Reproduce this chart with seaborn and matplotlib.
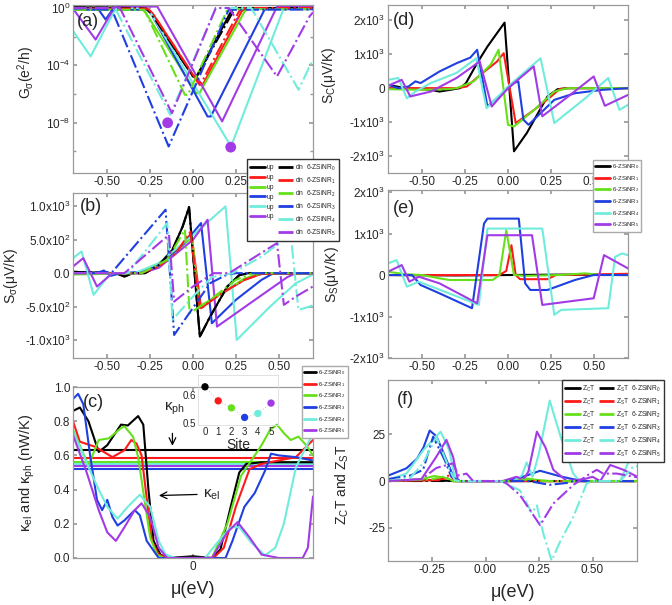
import matplotlib
matplotlib.use("Agg")
import matplotlib.pyplot as plt
import seaborn as sns
from matplotlib.lines import Line2D

sns.set_theme(style="ticks")
plt.rcParams["font.family"] = ["Liberation Sans", "DejaVu Sans"]
plt.rcParams["mathtext.fontset"] = "custom"
plt.rcParams["mathtext.rm"] = "Liberation Sans"
plt.rcParams["mathtext.it"] = "Liberation Sans:italic"
plt.rcParams["mathtext.bf"] = "Liberation Sans:bold"
plt.rcParams["mathtext.default"] = "rm"

# ---------------- common ----------------
sites = [0, 1, 2, 3, 4, 5]
ribbon_names = ["6-ZSiNR$_0$", "6-ZSiNR$_1$", "6-ZSiNR$_2$",
                "6-ZSiNR$_3$", "6-ZSiNR$_4$", "6-ZSiNR$_5$"]
colors = ["#000000", "#ff1a1a", "#66e01a", "#1f3fe0", "#70ecdc", "#a23be6"]

# ---------------- (a) G_sigma, log10 values ----------------
a_up_x = [
    [-0.70, -0.30, -0.27, -0.246, 0.00, 0.02, 0.227, 0.26, 0.70],
    [-0.70, -0.28, -0.26, -0.237, 0.038, 0.057, 0.284, 0.31, 0.70],
    [-0.70, -0.31, -0.29, -0.275, 0.019, 0.038, 0.303, 0.33, 0.70],
    [-0.70, -0.55, -0.51, -0.47, -0.27, -0.246, 0.085, 0.104, 0.417, 0.45, 0.70],
    [-0.70, -0.597, -0.455, -0.44, -0.265, 0.222, 0.53, 0.70],
    [-0.70, -0.568, -0.455, -0.208, 0.17, 0.49, 0.70],
]
a_up_logG = [
    [0.05, 0.02, -0.08, -0.35, -4.77, -4.8, -0.12, 0.0, 0.0],
    [-0.05, -0.03, -0.1, -0.35, -5.35, -5.35, -0.23, -0.02, 0.0],
    [-0.12, -0.12, -0.15, -0.35, -5.93, -5.93, -0.2, -0.05, -0.05],
    [-0.1, -0.12, -0.8, -0.12, -0.1, -0.35, -7.56, -7.56, -0.12, -0.08, -0.08],
    [-1.6, -3.37, -0.12, 0.0, 0.0, -9.65, 0.0, 0.0],
    [-0.05, -2.2, 0.1, 0.1, -7.9, 0.1, 0.1],
]
a_dn_x = [
    [-0.70, -0.30, -0.27, -0.246, 0.00, 0.02, 0.24, 0.27, 0.70],
    [-0.70, -0.28, -0.26, -0.237, 0.03, 0.05, 0.27, 0.30, 0.70],
    [-0.70, -0.30, -0.284, -0.047, -0.03, 0.20, 0.23, 0.70],
    [-0.70, -0.60, -0.55, -0.473, -0.142, 0.208, 0.70],
    [-0.70, -0.455, -0.133, 0.133, 0.34, 0.616, 0.68, 0.70],
    [-0.70, -0.426, -0.123, 0.133, 0.208, 0.49, 0.68, 0.70],
]
a_dn_logG = [
    [0.05, 0.0, -0.05, -0.35, -4.77, -4.8, -0.12, 0.0, 0.0],
    [-0.05, -0.03, -0.1, -0.35, -5.2, -5.2, -0.2, 0.0, 0.0],
    [-0.12, -0.12, -0.12, -6.05, -6.05, -0.12, -0.08, -0.08],
    [-0.05, 0.0, -0.1, -0.12, -9.65, -0.12, -0.1],
    [0.0, 0.0, -7.44, 0.0, 0.0, -5.7, -4.07, -3.6],
    [0.0, 0.0, -7.33, 0.0, 0.0, -4.77, -0.58, -0.3],
]
a_mark_x = [-0.148, 0.22]
a_mark_logG = [-8.0, -9.7]

# ---------------- (b) S_sigma ----------------
b_up_x = [
    [-0.70, -0.45, -0.40, -0.35, -0.28, -0.20, -0.12, -0.06, -0.023, 0.04, 0.10, 0.20, 0.27, 0.32, 0.70],
    [-0.70, -0.30, -0.20, -0.10, -0.01, 0.047, 0.15, 0.30, 0.40, 0.70],
    [-0.70, -0.30, -0.20, -0.10, -0.005, 0.035, 0.15, 0.30, 0.40, 0.70],
    [-0.70, -0.56, -0.52, -0.48, -0.42, -0.30, -0.20, -0.05, 0.047, 0.11, 0.25, 0.40, 0.47, 0.70],
    [-0.70, -0.65, -0.58, -0.50, -0.47, -0.34, -0.20, 0.00, 0.19, 0.255, 0.45, 0.60, 0.70],
    [-0.70, -0.64, -0.56, -0.47, -0.30, -0.20, 0.00, 0.085, 0.14, 0.35, 0.55, 0.60, 0.70],
]
b_up_y = [
    [20, 0, -50, 0, 0, 120, 350, 700, 990, -950, -650, -200, -30, 0, 0],
    [0, 0, 100, 300, 600, -525, -330, -100, -10, 0],
    [-20, 0, 100, 330, 540, -500, -330, -80, 0, 0],
    [0, 0, 40, -40, 0, 20, 120, 450, 750, -750, -400, -100, 0, 0],
    [225, 325, -325, -60, 0, 0, 150, 570, 1000, -1000, -500, -150, -20],
    [100, 225, -200, 0, 0, 80, 500, 800, -800, -420, -60, 0, 0],
]
b_dn_x = [
    [-0.70, -0.45, -0.40, -0.35, -0.28, -0.20, -0.12, -0.06, -0.023, 0.04, 0.10, 0.20, 0.27, 0.32, 0.70],
    [-0.70, -0.30, -0.20, -0.10, -0.015, 0.04, 0.15, 0.30, 0.40, 0.70],
    [-0.70, -0.30, -0.15, -0.047, -0.02, 0.10, 0.25, 0.35, 0.70],
    [-0.70, -0.47, -0.16, -0.11, 0.10, 0.20, 0.25, 0.70],
    [-0.70, -0.38, -0.15, -0.12, 0.00, 0.11, 0.23, 0.40, 0.57, 0.615, 0.68, 0.70],
    [-0.70, -0.40, -0.14, -0.11, 0.00, 0.12, 0.21, 0.49, 0.53, 0.60, 0.70],
]
b_dn_y = [
    [20, 0, -50, 0, 0, 120, 350, 700, 990, -950, -650, -200, -30, 0, 0],
    [0, 0, 100, 300, 620, -540, -330, -100, -10, 0],
    [0, 0, 200, 650, -600, -400, -100, 0, 0],
    [0, 20, 950, -925, -150, -20, 0, 0],
    [0, 0, 750, -700, -350, -60, 0, 250, 575, -550, -500, -480],
    [0, 0, 575, -425, -200, 0, 0, 450, -475, -350, -200],
]

# ---------------- (c) kappa_el and kappa_ph ----------------
c_x = [
    [-0.70, -0.66, -0.61, -0.55, -0.50, -0.42, -0.38, -0.32, -0.29, -0.26, -0.23, -0.19, -0.15, 0.00, 0.11, 0.16, 0.22, 0.27, 0.31, 0.40, 0.70],
    [-0.70, -0.66, -0.60, -0.57, -0.47, -0.40, -0.36, -0.33, -0.30, -0.27, -0.24, -0.20, -0.15, 0.12, 0.18, 0.25, 0.33, 0.40, 0.50, 0.60, 0.65, 0.70],
    [-0.70, -0.61, -0.55, -0.49, -0.42, -0.40, -0.35, -0.32, -0.28, -0.25, -0.21, -0.17, 0.11, 0.20, 0.28, 0.34, 0.40, 0.45, 0.49, 0.53, 0.57, 0.615, 0.66, 0.70],
    [-0.70, -0.67, -0.64, -0.60, -0.56, -0.53, -0.50, -0.47, -0.44, -0.40, -0.34, -0.31, -0.27, -0.20, 0.19, 0.23, 0.30, 0.36, 0.42, 0.455, 0.50, 0.60, 0.70],
    [-0.70, -0.60, -0.55, -0.50, -0.44, -0.38, -0.31, -0.25, -0.20, -0.16, -0.10, 0.07, 0.15, 0.22, 0.27, 0.34, 0.42, 0.48, 0.53, 0.60, 0.70],
    [-0.70, -0.62, -0.55, -0.50, -0.45, -0.40, -0.34, -0.30, -0.25, -0.20, -0.15, 0.11, 0.20, 0.26, 0.33, 0.40, 0.50, 0.64, 0.67, 0.70],
]
c_y = [
    [0.86, 0.88, 0.80, 0.62, 0.66, 0.78, 0.775, 0.83, 0.78, 0.40, 0.10, 0.02, 0.0, 0.01, 0.0, 0.05, 0.30, 0.50, 0.55, 0.56, 0.56],
    [0.80, 0.68, 0.66, 0.65, 0.59, 0.63, 0.69, 0.67, 0.60, 0.35, 0.10, 0.02, 0.0, 0.0, 0.06, 0.30, 0.52, 0.55, 0.57, 0.59, 0.64, 0.69],
    [0.75, 0.54, 0.69, 0.70, 0.76, 0.77, 0.71, 0.59, 0.32, 0.12, 0.02, 0.0, 0.0, 0.20, 0.48, 0.57, 0.66, 0.75, 0.78, 0.73, 0.69, 0.71, 0.66, 0.60],
    [0.93, 0.96, 0.90, 0.60, 0.34, 0.28, 0.34, 0.24, 0.19, 0.22, 0.28, 0.25, 0.10, 0.0, 0.0, 0.10, 0.30, 0.38, 0.51, 0.61, 0.60, 0.59, 0.57],
    [0.74, 0.51, 0.40, 0.30, 0.23, 0.30, 0.37, 0.30, 0.10, 0.02, 0.0, 0.0, 0.10, 0.18, 0.18, 0.09, 0.015, 0.06, 0.20, 0.53, 0.73],
    [0.72, 0.50, 0.28, 0.15, 0.10, 0.18, 0.28, 0.32, 0.24, 0.06, 0.0, 0.0, 0.15, 0.21, 0.12, 0.02, 0.0, 0.0, 0.06, 0.36],
]
kph_lines = [0.63, 0.585, 0.562, 0.522, 0.548, 0.537]
kph_inset = [0.629, 0.579, 0.554, 0.520, 0.534, 0.571]

# ---------------- (d) S_C ----------------
d_x = [
    [-0.70, -0.60, -0.45, -0.40, -0.35, -0.28, -0.245, -0.18, -0.12, -0.065, -0.02, 0.035, 0.11, 0.23, 0.29, 0.35, 0.70],
    [-0.70, -0.30, -0.24, -0.16, -0.065, -0.025, 0.045, 0.15, 0.25, 0.30, 0.35, 0.70],
    [-0.70, -0.50, -0.35, -0.30, -0.20, -0.10, -0.055, 0.00, 0.035, 0.15, 0.27, 0.35, 0.70],
    [-0.70, -0.64, -0.58, -0.54, -0.51, -0.40, -0.30, -0.22, -0.18, -0.12, 0.035, 0.06, 0.09, 0.12, 0.27, 0.39, 0.55, 0.70],
    [-0.70, -0.64, -0.59, -0.54, -0.45, -0.30, -0.185, -0.125, 0.00, 0.19, 0.27, 0.45, 0.585, 0.65, 0.70],
    [-0.70, -0.62, -0.57, -0.45, -0.30, -0.165, -0.095, 0.00, 0.15, 0.20, 0.35, 0.50, 0.565, 0.70],
]
d_y = [
    [100, 0, -50, -100, -60, 0, 150, 740, 1225, 1615, 1930, -1860, -1320, -245, -30, 0, 0],
    [0, 0, 50, 400, 780, 1030, -1030, -650, -250, -30, 0, 0],
    [-30, -50, -30, 0, 200, 700, 1130, -1080, -1130, -650, -100, 0, 0],
    [100, 0, 50, 200, 150, 490, 735, 900, 1130, -540, 150, 200, -930, -1080, -345, -150, -50, 0],
    [245, 300, -300, -100, 150, 450, 880, -590, 50, 880, -1030, -300, 300, -640, -490],
    [70, 245, -245, -100, 300, 785, -540, 0, 640, -830, -250, 345, -520, -200],
]

# ---------------- (e) S_S ----------------
e_x = [
    [-0.70, -0.30, 0.00, 0.30, 0.70],
    [-0.70, -0.20, -0.05, -0.01, 0.02, 0.045, 0.07, 0.23, 0.28, 0.70],
    [-0.70, -0.60, -0.50, -0.40, -0.34, -0.09, -0.05, -0.01, 0.035, 0.10, 0.30, 0.45, 0.55, 0.70],
    [-0.70, -0.56, -0.51, -0.40, -0.21, -0.14, -0.12, 0.063, 0.10, 0.13, 0.23, 0.39, 0.50, 0.70],
    [-0.70, -0.65, -0.59, -0.52, -0.17, -0.12, 0.20, 0.27, 0.31, 0.585, 0.625, 0.665, 0.70],
    [-0.70, -0.62, -0.575, -0.52, -0.40, -0.18, -0.12, 0.14, 0.20, 0.50, 0.56, 0.70],
]
e_y = [
    [0, -10, 0, 10, 0],
    [0, 0, 0, 100, 720, 0, -100, -100, 0, 30],
    [80, 20, 0, -80, -120, -120, 0, 1080, 0, -20, 0, 40, 0, 0],
    [0, 0, -240, -440, -800, 1240, 1360, 1360, -200, -360, -360, -120, 0, 0],
    [280, 360, -280, -160, -720, 1120, 1120, -960, -840, -800, 440, 520, 480],
    [80, 240, -160, -40, -200, -680, 960, 960, -720, -560, 480, 160],
]

# ---------------- (f) Z_C T and Z_S T ----------------
f_c_x = [
    [-0.46, -0.25, -0.15, 0.70],
    [-0.46, -0.25, -0.18, -0.15, 0.15, 0.20, 0.26, 0.70],
    [-0.46, -0.30, -0.24, -0.18, -0.15, 0.12, 0.19, 0.25, 0.30, 0.70],
    [-0.46, -0.37, -0.32, -0.29, -0.261, -0.23, -0.20, -0.15, -0.12, 0.10, 0.18, 0.255, 0.35, 0.41, 0.47, 0.70],
    [-0.46, -0.37, -0.29, -0.21, -0.17, -0.144, -0.12, 0.13, 0.17, 0.192, 0.22, 0.25, 0.30, 0.35, 0.41, 0.44, 0.63, 0.66, 0.68, 0.71],
    [-0.46, -0.30, -0.23, -0.183, -0.152, -0.13, -0.12, 0.08, 0.145, 0.175, 0.20, 0.24, 0.28, 0.317, 0.38, 0.46, 0.50, 0.536, 0.583, 0.645, 0.71],
]
f_c_y = [
    [0, 0.5, 0, 0],
    [0, 0.5, 1.4, 0, 0, 0.8, 0, 0],
    [0, 1.0, 2.7, 1.5, 0, 0, 1.4, 0.5, 0, 0],
    [2.7, 6.8, 12, 18, 27, 24, 16, 2.3, 0, 0, 2.5, 5.5, 2.5, 1.0, 0, 0],
    [0.5, 4, 16.6, 26.4, 16.6, 2.3, 0, 0, 3, 10, 2.3, 15, 43, 24, 4, 0, 0, 8, 13, 12],
    [0, 1, 13, 22, 13, 1, 0, 0, 2.3, 0.5, 5, 26.4, 18, 6, 0, 1, 2.3, 0, 8.6, 6, 2.3],
]
f_s_x = [
    [-0.46, 0.71],
    [-0.46, -0.22, -0.167, -0.14, 0.71],
    [-0.46, -0.25, -0.20, -0.15, 0.15, 0.20, 0.25, 0.71],
    [-0.46, -0.35, -0.292, -0.245, -0.19, -0.16, -0.12, 0.20, 0.30, 0.38, 0.41, 0.71],
    [-0.46, -0.35, -0.292, -0.23, -0.167, -0.144, -0.12, 0.07, 0.161, 0.216, 0.24, 0.27, 0.309, 0.35, 0.411, 0.473, 0.505, 0.63, 0.69, 0.71],
    [-0.46, -0.30, -0.23, -0.152, -0.128, -0.089, -0.058, 0.067, 0.098, 0.161, 0.255, 0.317, 0.411, 0.489, 0.52, 0.55, 0.614, 0.71],
]
f_s_y = [
    [0, 0],
    [0, 0.5, 3.2, 0, 0],
    [0, 1, 2.3, 0, 0, 1, 0, 0],
    [1, 3, 6, 23.7, 11, 2.3, 0, 0, -2, -1, 0, 0],
    [0, 2, 9.5, 23.7, 6, 0.5, 0, 0, -5, -17, -13, -28, -42.5, -32, -19, -1.2, 0, 0, 7.7, 8],
    [0, 1, 7, 9.5, 3, 4, 0, 0, -1.2, -7.5, -23.6, -12, -2, 4, 6, 4, 4, 2],
]

# ---------------- tick labels ----------------
x_ticks = [-0.5, -0.25, 0.0, 0.25, 0.5]
x_ticklabels = ["-0.50", "-0.25", "0.00", "0.25", "0.50"]
a_xticklabels = ["-0.50", "-0.25", "0.00", "0.25", ""]  # 0.50 hidden by legend
f_xticks = [-0.25, 0.0, 0.25, 0.5]
f_xticklabels = ["-0.25", "0.00", "0.25", "0.50"]
a_yticks = [1e0, 1e-4, 1e-8]
a_yticklabels = ["10$^0$", "10$^{-4}$", "10$^{-8}$"]
b_yticks = [-1000, -500, 0, 500, 1000]
b_yticklabels = ["-1.0x10$^3$", "-5.0x10$^2$", "0.0", "5.0x10$^2$", "1.0x10$^3$"]
c_yticks = [0.0, 0.2, 0.4, 0.6, 0.8, 1.0]
c_yticklabels = ["0.0", "0.2", "0.4", "0.6", "0.8", "1.0"]
de_yticks = [-2000, -1000, 0, 1000, 2000]
de_yticklabels = ["-2x10$^3$", "-1x10$^3$", "0", "1x10$^3$", "2x10$^3$"]
f_yticks = [-25, 0, 25]
f_yticklabels = ["-25", "0", "25"]

# ---------------- figure ----------------
W, H = 672, 605
fig = plt.figure(figsize=(W / 100, H / 100), dpi=100)


def px_axes(l, t, r, b):
    return fig.add_axes([l / W, 1 - b / H, (r - l) / W, (b - t) / H])


axa = px_axes(73, 5, 313, 173)
axb = px_axes(73, 193, 313, 358)
axc = px_axes(73, 387, 313, 558)
axd = px_axes(388, 5, 628, 173)
axe = px_axes(388, 190, 628, 358)
axf = px_axes(388, 380, 637, 561)

LW = 1.5


def draw(ax, xs, ys, color, ls="-", lw=LW):
    sns.lineplot(x=xs, y=ys, ax=ax, color=color, linestyle=ls, lw=lw,
                 estimator=None, sort=False, legend=False)


# (a)
axa.set_yscale("log")
for i in range(6):
    draw(axa, a_up_x[i], [10 ** v for v in a_up_logG[i]], colors[i], "-")
for i in range(6):
    draw(axa, a_dn_x[i], [10 ** v for v in a_dn_logG[i]], colors[i], "-.")
sns.scatterplot(x=a_mark_x, y=[10 ** v for v in a_mark_logG], ax=axa,
                color=colors[5], s=60, edgecolor="none", zorder=5, legend=False)
axa.set_ylim(10 ** -11.5, 10 ** 0.21)

# (b)
for i in range(6):
    draw(axb, b_up_x[i], b_up_y[i], colors[i], "-")
for i in range(6):
    draw(axb, b_dn_x[i], b_dn_y[i], colors[i], "-.")
axb.set_ylim(-1270, 1200)

# (c)
for i in range(6):
    axc.axhline(kph_lines[i], color=colors[i], lw=LW)
for i in range(6):
    draw(axc, c_x[i], c_y[i], colors[i], "-")
axc.set_ylim(0, 1.0)

# (d)
for i in range(6):
    draw(axd, d_x[i], d_y[i], colors[i], "-")
axd.set_ylim(-2500, 2450)

# (e)
for i in range(6):
    draw(axe, e_x[i], e_y[i], colors[i], "-")
axe.set_ylim(-2000, 2050)

# (f)
for i in range(6):
    draw(axf, f_c_x[i], f_c_y[i], colors[i], "-")
for i in range(6):
    draw(axf, f_s_x[i], f_s_y[i], colors[i], "-.")
axf.set_ylim(-42.7, 54)

# axes styling
for ax in [axa, axb, axc, axd, axe]:
    ax.set_xlim(-0.7, 0.7)
axf.set_xlim(-0.456, 0.708)

axa.set_xticks(x_ticks)
axa.set_xticklabels(a_xticklabels)
for ax in [axb, axd, axe]:
    ax.set_xticks(x_ticks)
    ax.set_xticklabels(x_ticklabels)
axc.set_xticks([0.0])
axc.set_xticklabels(["0"])
axf.set_xticks(f_xticks)
axf.set_xticklabels(f_xticklabels)

axa.set_yticks(a_yticks)
axa.set_yticklabels(a_yticklabels)
axa.yaxis.set_minor_locator(matplotlib.ticker.FixedLocator([1e-2, 1e-6, 1e-10]))
axa.yaxis.set_minor_formatter(matplotlib.ticker.NullFormatter())
axb.set_yticks(b_yticks)
axb.set_yticklabels(b_yticklabels)
axc.set_yticks(c_yticks)
axc.set_yticklabels(c_yticklabels)
for ax in [axd, axe]:
    ax.set_yticks(de_yticks)
    ax.set_yticklabels(de_yticklabels)
axf.set_yticks(f_yticks)
axf.set_yticklabels(f_yticklabels)

for ax in [axa, axb, axc, axd, axe, axf]:
    ax.set_xlabel("")
    ax.set_ylabel("")
    for s in ax.spines.values():
        s.set_color("#9a9a9a")
        s.set_linewidth(0.9)
    ax.tick_params(which="both", direction="in", top=True, right=True,
                   color="#9a9a9a", labelsize=8.5, pad=2, length=3)
    ax.tick_params(which="minor", length=2)

# panel letters
for ax, lab, xy in [(axa, "(a)", (0.017, 0.95)), (axb, "(b)", (0.03, 0.97)),
                    (axc, "(c)", (0.04, 0.96)), (axd, "(d)", (0.02, 0.96)),
                    (axe, "(e)", (0.02, 0.94)), (axf, "(f)", (0.035, 0.94))]:
    ax.text(xy[0], xy[1], lab, transform=ax.transAxes, fontsize=13,
            va="top", ha="left", zorder=6)

# y labels
ylab_fs = 10
axa.set_ylabel("G$_\\sigma$(e$^2$/h)", fontsize=ylab_fs)
axa.yaxis.set_label_coords(-0.15, 0.6)
axb.set_ylabel("S$_\\sigma$(\u03bcV/K)", fontsize=ylab_fs)
axb.yaxis.set_label_coords(-0.22, 0.5)
axc.set_ylabel("\u03ba$_{el}$ and \u03ba$_{ph}$ (nW/K)", fontsize=10.5)
axc.yaxis.set_label_coords(-0.148, 0.5)
axd.set_ylabel("S$_C$(\u03bcV/K)", fontsize=ylab_fs)
axd.yaxis.set_label_coords(-0.208, 0.58)
axe.set_ylabel("S$_S$(\u03bcV/K)", fontsize=ylab_fs)
axe.yaxis.set_label_coords(-0.196, 0.5)
axf.set_ylabel("Z$_C$T and Z$_S$T", fontsize=ylab_fs)
axf.yaxis.set_label_coords(-0.15, 0.42)
axc.set_xlabel("\u03bc(eV)", fontsize=13, labelpad=6)
axf.set_xlabel("\u03bc(eV)", fontsize=13, labelpad=6)

# (c) annotations
axc.annotate("", xy=(-0.12, 0.64), xytext=(-0.12, 0.745),
             arrowprops=dict(arrowstyle="->", color="black", lw=0.9))
axc.text(-0.17, 0.87, "\u03ba$_{ph}$", fontsize=11, va="center", ha="left")
axc.annotate("", xy=(-0.215, 0.365), xytext=(0.04, 0.372),
             arrowprops=dict(arrowstyle="->", color="black", lw=0.9))
axc.text(0.057, 0.37, "\u03ba$_{el}$", fontsize=11, va="center", ha="left")

# (c) inset
axin = px_axes(198, 375, 278, 425)
axin.set_facecolor("none")
axin.plot(sites, kph_inset, ":", color="#d0d0d0", lw=0.8)
sns.scatterplot(x=sites, y=kph_inset, hue=sites, palette=colors, ax=axin,
                s=28, edgecolor="none", legend=False, zorder=3)
axin.set_xlim(-0.53, 5.53)
axin.set_ylim(0.493, 0.671)
axin.set_xticks(sites)
axin.set_yticks([0.5, 0.6])
axin.set_yticklabels(["0.5", "0.6"])
axin.set_ylabel("")
axin.set_xlabel("Site", fontsize=10, labelpad=1)
for s in axin.spines.values():
    s.set_color("#dddddd")
    s.set_linewidth(0.6)
axin.tick_params(direction="in", labelsize=7, pad=1.5, length=0, color="#cccccc")

# legends
def leg_handles(ls):
    return [Line2D([], [], color=c, lw=2, linestyle=ls) for c in colors]


hA = leg_handles("-") + leg_handles("-.")
lA = ["up"] * 6 + ["dn  " + n for n in ribbon_names]
fig.legend(hA, lA, ncol=2, loc="upper left", bbox_to_anchor=(247 / W, 1 - 159 / H),
           fontsize=4.8, frameon=True, fancybox=False, edgecolor="#333333",
           framealpha=1, facecolor="white", handlelength=2.2, columnspacing=0.5,
           labelspacing=0.42, borderpad=0.5, handletextpad=0.3, borderaxespad=0)

fig.legend(leg_handles("-"), ribbon_names, loc="upper left",
           bbox_to_anchor=(302 / W, 1 - 366 / H), fontsize=4.3, frameon=True,
           fancybox=False, edgecolor="#aaaaaa", framealpha=1, facecolor="white",
           handlelength=2.0, labelspacing=0.45, borderpad=0.4, handletextpad=0.3,
           borderaxespad=0)

fig.legend(leg_handles("-"), ribbon_names, loc="upper left",
           bbox_to_anchor=(593 / W, 1 - 160 / H), fontsize=4.3, frameon=True,
           fancybox=False, edgecolor="#aaaaaa", framealpha=1, facecolor="white",
           handlelength=2.4, labelspacing=0.45, borderpad=0.4, handletextpad=0.3,
           borderaxespad=0)

hF = leg_handles("-") + leg_handles("-.")
lF = ["Z$_C$T"] * 6 + ["Z$_S$T  " + n for n in ribbon_names]
fig.legend(hF, lF, ncol=2, loc="upper left", bbox_to_anchor=(562 / W, 1 - 380 / H),
           fontsize=4.8, frameon=True, fancybox=False, edgecolor="#333333",
           framealpha=1, facecolor="white", handlelength=2.2, columnspacing=0.5,
           labelspacing=0.42, borderpad=0.5, handletextpad=0.3, borderaxespad=0)

fig.savefig("out.png", dpi=100)
